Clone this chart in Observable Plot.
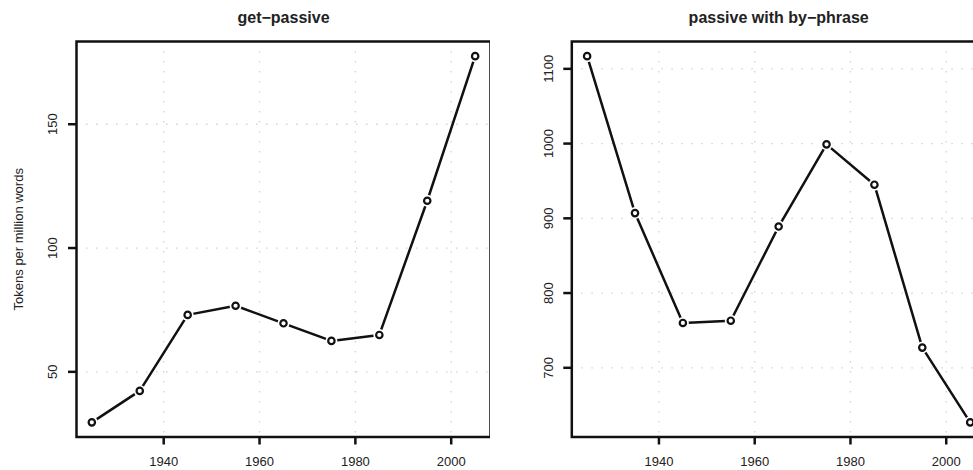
<!DOCTYPE html>
<html><head><meta charset="utf-8">
<script src="https://cdn.jsdelivr.net/npm/d3@7"></script>
<script src="https://cdn.jsdelivr.net/npm/@observablehq/plot@0.6"></script>
<style>
html,body{margin:0;padding:0;overflow:hidden;background:#fff;width:973px;height:470px}
#left{position:absolute;left:0;top:0;width:500px;height:470px}
#right{position:absolute;left:490px;top:0;width:495px;height:470px}
svg{max-width:none !important}
</style></head><body><div id="left"></div><div id="right"></div>
<script>
const years = [1925, 1935, 1945, 1955, 1965, 1975, 1985, 1995, 2005];
const getPassive = [29.6, 42.3, 73.0, 76.7, 69.6, 62.5, 64.9, 119.1, 177.5];
const byPhrase = [1117, 907, 760, 763, 889, 999, 945, 727, 627];
const xTicks = [1940, 1960, 1980, 2000];
const yTicksLeft = [50, 100, 150];
const yTicksRight = [700, 800, 900, 1000, 1100];
const titles = ["get−passive", "passive with by−phrase"];
const yLabel = "Tokens per million words";

const FONT = "'Liberation Sans', Arial, Helvetica, sans-serif";

function expand(lo, hi) { const p = (hi - lo) * 0.04; return [lo - p, hi + p]; }

function panel({values, yTicks, title, width, marginLeft, marginRight, labelDx, withYLabel}) {
  const data = years.map((y, i) => ({year: y, value: values[i]}));
  const marks = [
    Plot.gridX(xTicks, {stroke: "#d3d3d3", strokeOpacity: 1, strokeWidth: 1.3, strokeDasharray: "1.5,8.5"}),
    Plot.gridY(yTicks, {stroke: "#d3d3d3", strokeOpacity: 1, strokeWidth: 1.3, strokeDasharray: "1.5,8.5"}),
    Plot.frame({stroke: "#111", strokeWidth: 2.5}),
    Plot.axisX(xTicks, {tickSize: 8, tickPadding: 12, fontSize: 13, strokeWidth: 2.5, stroke: "#111", fill: "#222", label: null, tickFormat: d => String(d)}),
    Plot.axisY(yTicks, {tickSize: 8, strokeWidth: 2.5, stroke: "#111", tickFormat: () => "", label: null}),
    Plot.text(yTicks, {y: d => d, frameAnchor: "left", rotate: -90, dx: labelDx, text: d => String(d), fontSize: 13, fill: "#222", textAnchor: "middle", lineAnchor: "middle"}),
    Plot.text([title], {frameAnchor: "top", dy: -24, fontSize: 16, fontWeight: "bold", fill: "#222", textAnchor: "middle", lineAnchor: "middle"}),
    Plot.line(data, {x: "year", y: "value", stroke: "#111", strokeWidth: 2.5}),
    Plot.dot(data, {x: "year", y: "value", r: 6, fill: "white", stroke: null}),
    Plot.dot(data, {x: "year", y: "value", r: 3.2, fill: "white", stroke: "#111", strokeWidth: 2.2})
  ];
  if (withYLabel) marks.push(Plot.text([yLabel], {frameAnchor: "left", rotate: -90, dx: -58, fontSize: 13, fill: "#222", textAnchor: "middle", lineAnchor: "middle"}));
  return Plot.plot({
    width, height: 470,
    marginTop: 41, marginBottom: 33.5, marginLeft, marginRight,
    style: {fontFamily: FONT, background: "white", overflow: "visible", maxWidth: "none"},
    x: {domain: expand(1925, 2005), axis: null},
    y: {domain: expand(d3.min(values), d3.max(values)), axis: null},
    marks
  });
}

document.getElementById("left").appendChild(panel({
  values: getPassive, yTicks: yTicksLeft, title: titles[0],
  width: 500, marginLeft: 76, marginRight: 10, labelDx: -24, withYLabel: true
}));
document.getElementById("right").appendChild(panel({
  values: byPhrase, yTicks: yTicksRight, title: titles[1],
  width: 495, marginLeft: 81.3, marginRight: 0, labelDx: -23, withYLabel: false
}));
</script></body></html>
